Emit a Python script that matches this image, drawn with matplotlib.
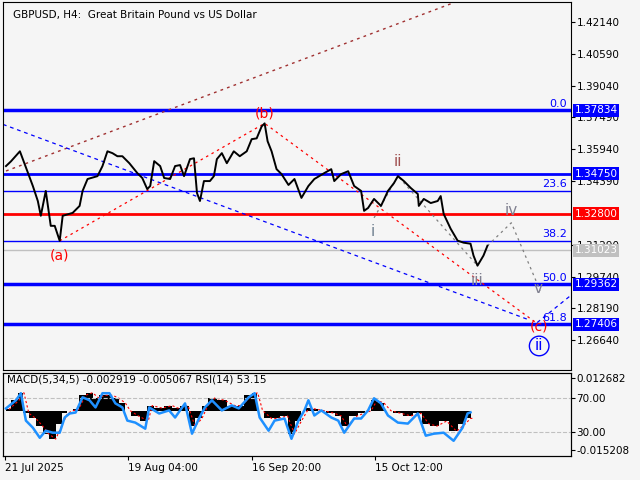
import numpy as np
import matplotlib.pyplot as plt

# price path (chart x position, price)
px = [3, 8, 17, 30, 35, 38, 43, 48, 52, 57, 60, 70, 77, 80, 85, 95, 100, 105, 110, 115,
      120, 127, 135, 140, 145, 148, 152, 158, 162, 168, 173, 178, 182, 188, 192, 195, 198,
      202, 208, 212, 215, 220, 225, 232, 238, 245, 250, 255, 260, 263, 266, 270, 275, 280,
      287, 293, 300, 307, 313, 323, 330, 333, 340, 347, 353, 360, 363, 367, 373, 380, 387,
      393, 397, 403, 410, 417, 418, 423, 430, 437, 440, 443, 450, 457, 463, 470, 473, 477,
      483, 487]
price = [1.3512, 1.3535, 1.3584, 1.3415, 1.3342, 1.3270, 1.3391, 1.3221, 1.3221, 1.3148,
         1.3270, 1.3284, 1.3318, 1.3391, 1.3449, 1.3463, 1.3512, 1.3584, 1.3575, 1.3560,
         1.3560, 1.3526, 1.3478, 1.3454, 1.3400, 1.3415, 1.3536, 1.3512, 1.3454, 1.3449,
         1.3512, 1.3517, 1.3463, 1.3546, 1.3550, 1.3381, 1.3342, 1.3439, 1.3439, 1.3463,
         1.3546, 1.3575, 1.3526, 1.3584, 1.3560, 1.3584, 1.3643, 1.3647, 1.3705, 1.3720,
         1.3633, 1.3584, 1.3497, 1.3473, 1.3420, 1.3449, 1.3357, 1.3415, 1.3449, 1.3478,
         1.3497, 1.3439, 1.3473, 1.3487, 1.3415, 1.3391, 1.3294, 1.3308, 1.3352, 1.3318,
         1.3391, 1.3429, 1.3463, 1.3439, 1.3405, 1.3376, 1.3318, 1.3352, 1.3332, 1.3342,
         1.3366, 1.3279, 1.3207, 1.3149, 1.3139, 1.3134, 1.3076, 1.3027, 1.3076, 1.3124]

# indicator samples
ix = [3, 13, 18, 23, 30, 37, 43, 50, 57, 62, 67, 73, 80, 87, 93, 100, 107, 113, 120, 125,
      133, 143, 147, 157, 167, 173, 183, 190, 197, 203, 210, 220, 230, 237, 247, 253, 258,
      267, 273, 283, 290, 297, 303, 307, 313, 320, 330, 337, 343, 353, 360, 367, 373, 380,
      387, 397, 407, 417, 425, 433, 443, 453, 462, 467, 470]
rsi = [57.9, 67.6, 76.1, 43.3, 34.8, 22.7, 31.2, 28.8, 28.8, 47.0, 51.8, 53.0, 71.2, 67.6,
       59.1, 76.1, 76.1, 63.9, 59.1, 43.3, 40.9, 33.6, 59.1, 51.8, 55.5, 47.0, 63.9, 27.6,
       45.8, 59.1, 67.6, 55.5, 61.5, 57.9, 71.2, 76.1, 47.0, 31.2, 43.3, 45.8, 21.5, 43.3,
       55.5, 67.6, 49.4, 55.5, 47.0, 43.3, 28.8, 45.8, 45.8, 55.5, 70.0, 63.9, 49.4, 40.9,
       39.7, 51.8, 25.2, 27.6, 28.8, 19.1, 34.8, 51.8, 53.2]
macd = [0.5, 4, 7, -1, -3, -6, -9, -11, -5, -1, 0, 0.5, 6, 7, 5, 6, 6, 5, 3, 0, -2, -4, 2,
        1, 2, 1, 2, -6, -3, 2, 5, 4, 2, 2, 6, 7, 0, -3, -3, -2, -9, -4, 0, 1, 0.5, 0, -1, -2,
        -6, -2, -1, 0, 4, 3, 0, -1, -2, -1, -5, -6, -4, -8, -5, -3, -2.9]
macd = np.array(macd) / 1000

fib_lines = [1.37834, 1.33920, 1.31480, 1.29362, 1.27406]
fib_names = ['0.0', '23.6', '38.2', '50.0', '61.8']
fib_width = [2.5, 1, 1, 2.5, 2.5]
level_blue = 1.34750
level_red = 1.32800
last_price = 1.31023

price_ticks = [1.42140, 1.40590, 1.39040, 1.37490, 1.35940, 1.34390, 1.31290,
               1.29740, 1.28190, 1.26640]
date_pos = [2, 126, 250, 374]
date_labels = ['21 Jul 2025', '19 Aug 04:00', '16 Sep 20:00', '15 Oct 12:00']

# wave points
wa = (57, 1.3148); wb = (263, 1.3720); wc = (537, 1.2745)
wi = (373, 1.3260); wii = (397, 1.3463); wiii = (477, 1.3027)
wiv = (511, 1.3236); wv = (540, 1.2906)

bg = '#f5f5f5'
fig = plt.figure(figsize=(6.4, 4.8), dpi=100, facecolor=bg)
ax = fig.add_axes([3/640, 110/480, 568/640, 368/480], facecolor=bg)
ax2 = fig.add_axes([3/640, 24/480, 568/640, 83/480], facecolor=bg, sharex=ax)

ax.set_xlim(0, 571)
ax.set_ylim(1.2519, 1.4311)

for p, n, w in zip(fib_lines, fib_names, fib_width):
    ax.axhline(p, color='#0000ff', lw=w, zorder=2)
    ax.text(567, p + 0.0008, n, color='#0000ff', ha='right', va='bottom', fontsize=8)
ax.axhline(level_blue, color='#0000ff', lw=2, zorder=2)
ax.axhline(level_red, color='#ff0000', lw=2, zorder=2)
ax.axhline(last_price, color='#c0c0c0', lw=1, zorder=1)

# trend lines
ax.plot([3, 455], [1.3488, 1.4311], color='#a03030', ls=(0, (2, 3)), lw=1)
ax.plot([0, 530], [1.3715, 1.2761], color='#0000ff', ls=(0, (3, 3)), lw=0.9)
ax.plot([537, 571], [1.2750, 1.2883], color='#0000ff', ls=(0, (3, 3)), lw=0.9)
ax.plot([wa[0], wb[0], wc[0]], [wa[1], wb[1], wc[1]], color='#ff0000', ls=(0, (2, 3)), lw=0.9)
ax.plot([wi[0], wii[0], wiii[0]], [wi[1], wii[1], wiii[1]], color='#808080', ls=(0, (2, 3)), lw=0.9)
ax.plot([px[-1], wiv[0], wv[0]], [price[-1], wiv[1], wv[1]], color='#808080', ls=(0, (2, 3)), lw=0.9)

ax.plot(px, price, color='black', lw=1.4, zorder=5)

ax.text(57, 1.3110, '(a)', color='#ff0000', ha='center', va='top', fontsize=10)
ax.text(263, 1.3736, '(b)', color='#ff0000', ha='center', va='bottom', fontsize=10)
ax.text(539, 1.2730, '(c)', color='#ff0000', ha='center', va='center', fontsize=10)
ax.text(539, 1.2636, 'ii', color='#0000ff', ha='center', va='center', fontsize=11,
        bbox=dict(boxstyle='circle,pad=0.15', fc='none', ec='#0000ff'))
ax.text(372, 1.3230, 'i', color='#708090', ha='center', va='top', fontsize=11)
ax.text(397, 1.3500, 'ii', color='#a05050', ha='center', va='bottom', fontsize=11)
ax.text(477, 1.2990, 'iii', color='#808090', ha='center', va='top', fontsize=11)
ax.text(511, 1.3260, 'iv', color='#808090', ha='center', va='bottom', fontsize=11)
ax.text(538, 1.2880, 'v', color='#808090', ha='center', va='bottom', fontsize=11)

ax.text(10, 1.4250, 'GBPUSD, H4:  Great Britain Pound vs US Dollar', fontsize=7.5,
        va='center', color='black')

ax.yaxis.tick_right()
ax.set_yticks(price_ticks)
ax.set_yticklabels(['%.5f' % t for t in price_ticks], fontsize=7.5)
ax.tick_params(axis='x', bottom=False, labelbottom=False)
ax.tick_params(axis='y', length=3, pad=1)

for p, fc, tc in [(fib_lines[0], '#0000ff', 'white'), (level_blue, '#0000ff', 'white'),
                  (level_red, '#ff0000', 'white'), (last_price, '#c0c0c0', 'white'),
                  (fib_lines[3], '#0000ff', 'white'), (fib_lines[4], '#0000ff', 'white')]:
    ax.text(1.006, p, '%.5f' % p, transform=ax.get_yaxis_transform(), color=tc,
            fontsize=7.5, va='center', ha='left',
            bbox=dict(boxstyle='square,pad=0.15', fc=fc, ec='none'))

# indicator panel
ax2.set_ylim(-0.01757, 0.01465)
ax2.fill_between(ix, 0, macd, color='black', step='mid', lw=0)
ax2.plot(np.array(ix) + 3, macd, color='#ff0000', ls=(0, (2, 2)), lw=0.8)

ax3 = ax2.twinx()
ax3.set_ylim(0.9, 100.3)
ax3.axhline(70, color='#c0c0c0', ls='--', lw=0.8)
ax3.axhline(30, color='#c0c0c0', ls='--', lw=0.8)
ax3.plot(ix, rsi, color='#1e90ff', lw=1.8)
ax3.set_yticks([70, 30])
ax3.set_yticklabels(['70.00', '30.00'], fontsize=7.5)
ax3.tick_params(axis='y', length=3, pad=1)
ax3.text(4, 92, 'MACD(5,34,5) -0.002919 -0.005067 RSI(14) 53.15', fontsize=7.5, va='center')

ax2.set_yticks([0.012682, -0.015208])
ax2.set_yticklabels(['0.012682', '-0.015208'], fontsize=7.5)
ax2.tick_params(axis='y', length=3, pad=1, left=False, labelleft=False,
                right=True, labelright=True)

ax2.set_xticks(date_pos)
ax2.set_xticklabels(date_labels, fontsize=7.5, ha='left')
ax2.tick_params(axis='x', length=3, pad=2)

for a in (ax, ax2, ax3):
    for s in a.spines.values():
        s.set_linewidth(0.8)

fig.savefig('out.png', dpi=100, facecolor=bg)
